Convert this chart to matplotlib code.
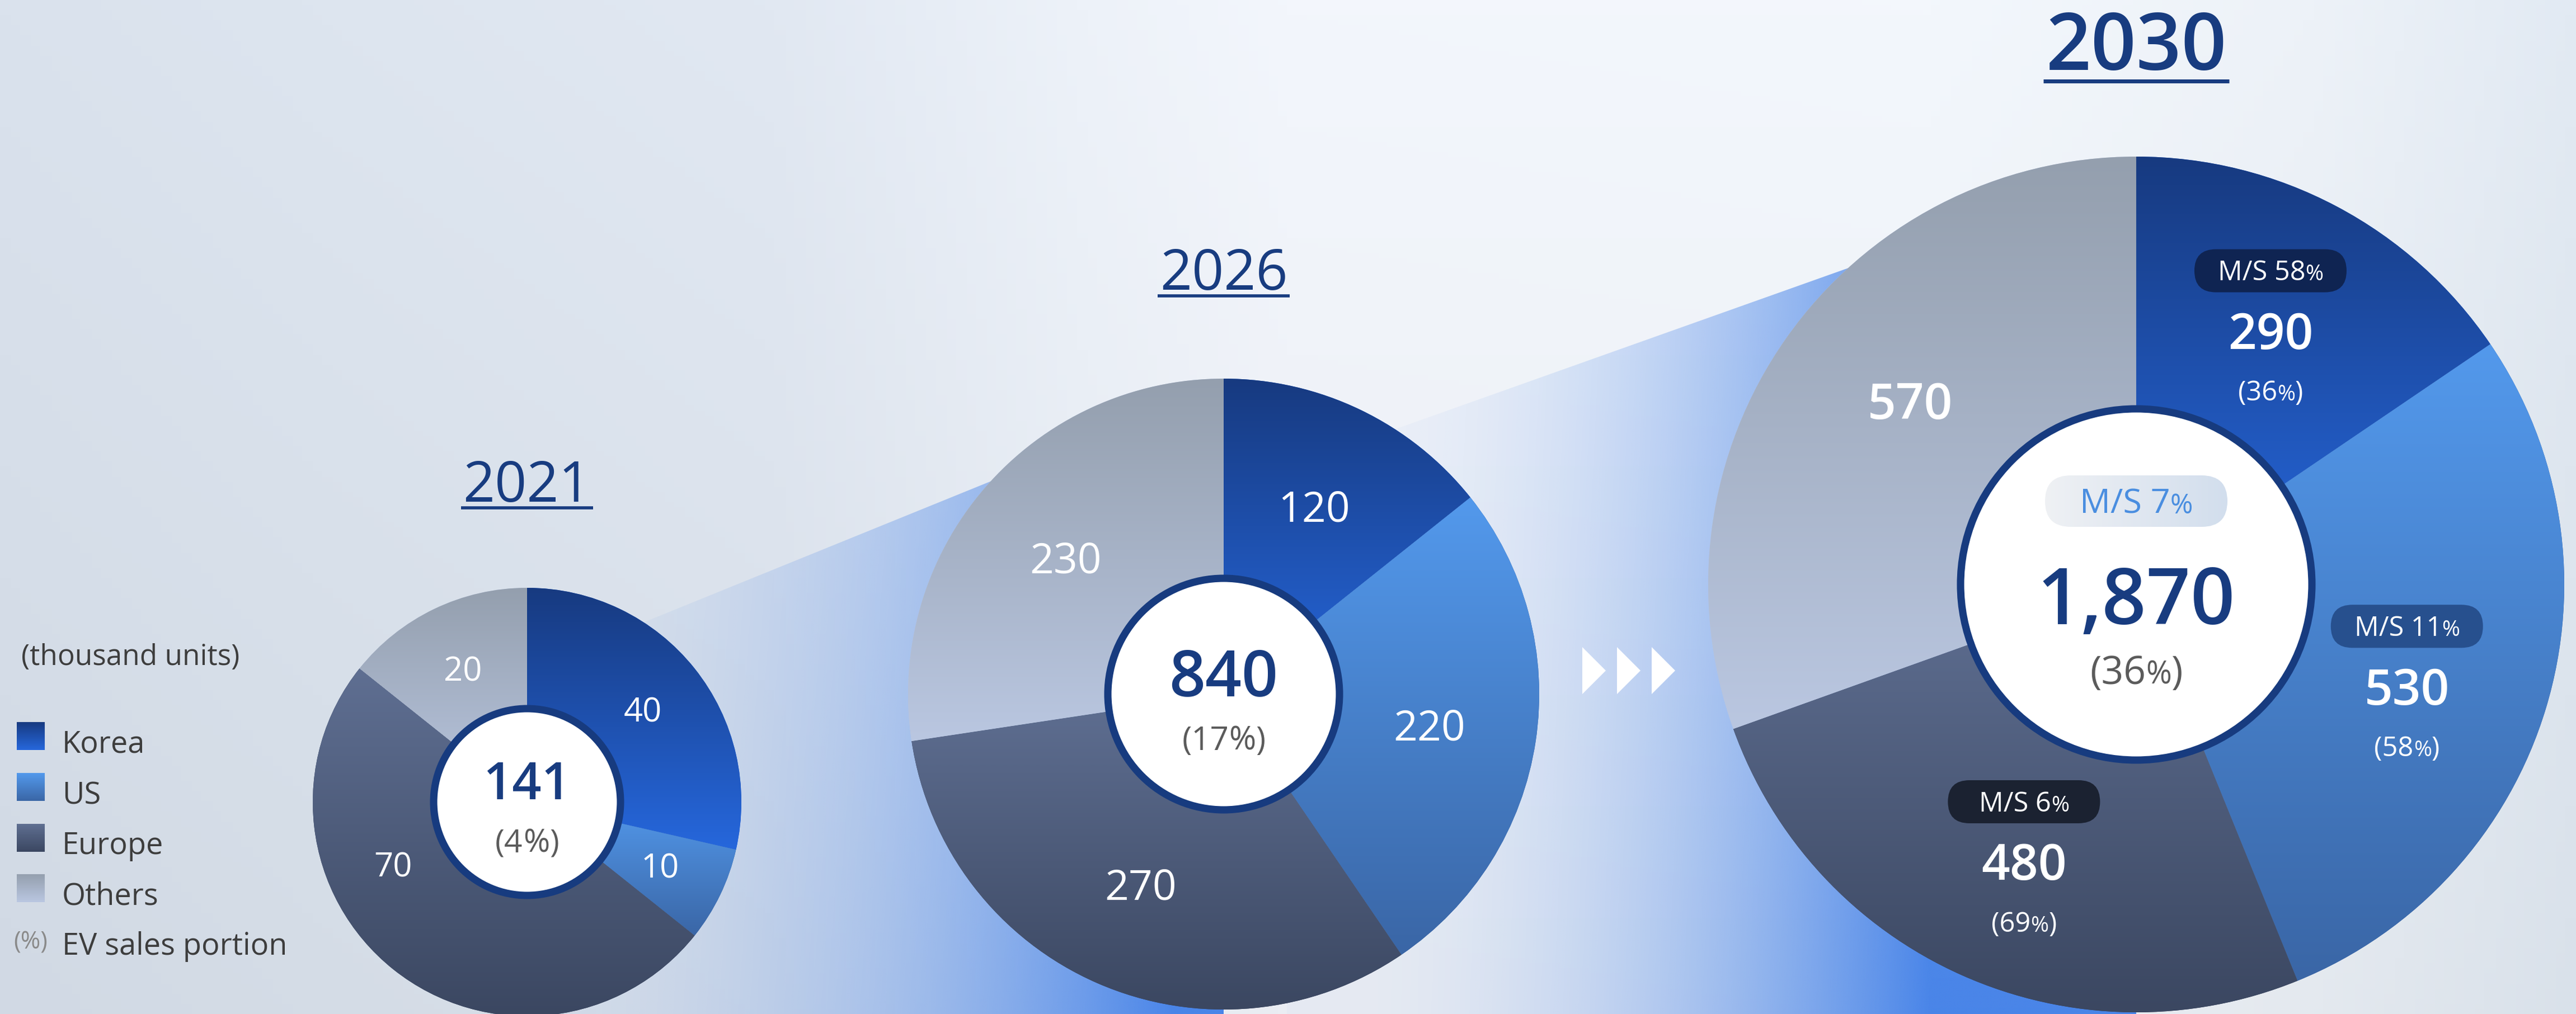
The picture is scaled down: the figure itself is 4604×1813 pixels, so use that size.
import re
import numpy as np
import matplotlib
matplotlib.use("Agg")
import matplotlib.pyplot as plt
from matplotlib.patches import Circle, Polygon, FancyBboxPatch, Rectangle
from matplotlib.colors import to_rgb, LinearSegmentedColormap
from matplotlib.font_manager import FontProperties

# ---- data (thousand units) ----
regions = ["Korea", "US", "Europe", "Others"]
years = ["2021", "2026", "2030"]
sales_2021 = [40, 10, 70, 20]
sales_2026 = [120, 220, 270, 230]
sales_2030 = [290, 530, 480, 570]
totals = ["141", "840", "1,870"]
ev_portion_total = ["4%", "17%", "36%"]
ev_portion_2030 = ["36%", "58%", "69%", None]
ms_2030 = ["58%", "11%", "6%", None]
ms_total_2030 = "7%"

# ---- layout (image pixels, y down) ----
W, H = 4604, 1813
FONT = "Open Sans"
NAVY = "#183c80"
pie_center = [(942, 1434), (2187, 1241), (3818, 1045)]
pie_radius = [383, 564, 765]
hole_radius = [167, 207, 314]
year_y = [861, 482, 74]
year_size = [72, 72, 102]
total_y = [(1396, 1503), (1204, 1320), (1066, 1198)]
total_size = [(66, 41), (82, 42), (100, 50)]
label_size = [43, 54, 64]
label_rfrac = [0.69, 0.66, 0.67]
label_override = {(0, "Europe"): (205, 0.69), (2, "US"): (-20.7, 0.676),
                  (2, "Others"): (141, 0.68), (2, "Europe"): (-112, 0.70)}
wedge_grad = {"Korea": ("#173a80", "#2667dc"), "US": ("#5399ec", "#3a66a6"),
              "Europe": ("#5f6f92", "#3b4761"), "Others": ("#949fae", "#bac7e1")}
pill_color = {"Korea": "#0f2452", "US": "#27508e", "Europe": "#1b2231"}

fig = plt.figure(figsize=(W / 100, H / 100), dpi=100)
ax = fig.add_axes([0, 0, 1, 1])
renderer = fig.canvas.get_renderer()


def Y(y):
    return H - y


def text_w(s, size, weight):
    fp = FontProperties(family=FONT, size=size, weight=weight)
    return renderer.get_text_width_height_descent(s, fp, ismath=False)[0]


def label(x, y, s, size, color, weight="normal", pct=1.0, z=8):
    # (x, y) = centre of the digits in image coords
    parts = [p for p in re.split("(%)", s) if p]
    sizes = [size * pct if p == "%" else size for p in parts]
    widths = [text_w(p, sz, weight) for p, sz in zip(parts, sizes)]
    xx = x - sum(widths) / 2
    base = Y(y) - 0.357 * size * 100 / 72
    for p, sz, w in zip(parts, sizes, widths):
        ax.text(xx, base, p, fontsize=sz, ha="left", va="baseline", color=color,
                family=FONT, weight=weight, zorder=z)
        xx += w
    return sum(widths)


def vgrad(box, top, bottom, clip, z, horizontal=False):
    x0, y0, x1, y1 = box
    c = np.linspace(0, 1, 256)
    t, b = np.array(to_rgb(top)), np.array(to_rgb(bottom))
    img = t[None, :] * (1 - c[:, None]) + b[None, :] * c[:, None]
    img = img[None, :, :] if horizontal else img[:, None, :]
    im = ax.imshow(img, extent=(x0, x1, y0, y1), origin="upper", aspect="auto",
                   zorder=z, interpolation="bilinear")
    im.set_clip_path(clip)
    return im


# ---- background ----
bg = LinearSegmentedColormap.from_list("bg", [
    (0.0, "#d5dde8"), (0.12, "#d8e0ea"), (0.3, "#dce3ed"), (0.42, "#e8edf4"),
    (0.5, "#eef1f7"), (0.75, "#eef2f7"), (0.9, "#e8edf3"), (1.0, "#dde5ee")])
row = bg(np.linspace(0, 1, 1151))[:, :3]
vert = np.linspace(0, 1, 200)[:, None, None]
bg_img = np.clip(row[None, :, :] + 0.02 - 0.035 * vert, 0, 1)
ax.imshow(bg_img, extent=(0, W, 0, H), origin="upper", aspect="auto", zorder=0)


# ---- blue funnels between pies ----
def funnel(p, q, xl, xr, xa, xb):
    (x1, y1), (x2, y2) = (p[0], Y(p[1])), (q[0], Y(q[1]))
    slope = (y2 - y1) / (x2 - x1)
    yl, yr = y1 + slope * (xl - x1), y1 + slope * (xr - x1)
    poly = Polygon([(xl, yl), (xr, yr), (xr, 0), (xl, 0)], closed=True,
                   fc="none", ec="none", zorder=1)
    ax.add_patch(poly)
    ymax = max(yl, yr)
    X, YY = np.meshgrid(np.linspace(xl, xr, 400), np.linspace(0, ymax, 300))
    line = y1 + slope * (X - x1)
    v = np.clip((line - YY) / np.maximum(line, 1), 0, 1)
    t = np.clip((X - xa) / (xb - xa), 0, 1)
    alpha = np.clip(0.03 + 0.8 * t ** 1.8 + 0.1 * t * v, 0, 1)
    img = np.zeros(X.shape + (4,))
    img[..., :3] = to_rgb("#3d7de8")
    img[..., 3] = alpha
    im = ax.imshow(img, extent=(xl, xr, 0, ymax), origin="lower", aspect="auto",
                   zorder=1, interpolation="bilinear")
    im.set_clip_path(poly)


funnel((1189, 1097), (1772, 860), 1000, 2187, 1000, 2100)
funnel((2489, 769), (3304, 479), 2300, 3818, 2450, 3450)

# arrows
for ax_x in [2828, 2890, 2952]:
    ax.add_patch(Polygon([(ax_x, Y(1157)), (ax_x + 42, Y(1199)), (ax_x, Y(1241))],
                         closed=True, fc="white", ec="none", zorder=2))

# ---- pies ----
all_sales = [sales_2021, sales_2026, sales_2030]
for i, vals in enumerate(all_sales):
    cx, cy = pie_center[i]
    r = pie_radius[i]
    wedges, _ = ax.pie(vals, radius=r, center=(cx, Y(cy)), startangle=90,
                       counterclock=False, frame=True,
                       colors=[wedge_grad[k][1] for k in regions],
                       wedgeprops=dict(linewidth=0, zorder=3))
    for w, reg in zip(wedges, regions):
        w.set_zorder(3)
        ext = w.get_path().get_extents()
        vgrad((ext.x0, ext.y0, ext.x1, ext.y1), *wedge_grad[reg], clip=w, z=3.5)

    # centre circle
    ax.add_patch(Circle((cx, Y(cy)), hole_radius[i], fc="white", ec="#173b7f",
                        lw=9.4, zorder=5))

    # wedge labels
    for w, reg, v in zip(wedges, regions, vals):
        ang = (w.theta1 + w.theta2) / 2
        rf = label_rfrac[i]
        if (i, reg) in label_override:
            ang, rf = label_override[(i, reg)]
        lx = cx + rf * r * np.cos(np.radians(ang))
        ly = cy - rf * r * np.sin(np.radians(ang))
        if i < 2:
            label(lx, ly, str(v), label_size[i], "white")
        else:
            label(lx, ly, str(v), label_size[i], "white", weight="semibold")
            k = regions.index(reg)
            if ev_portion_2030[k]:
                label(lx, ly + 107, f"({ev_portion_2030[k]})", 35, "white", pct=0.8)
            if ms_2030[k]:
                ax.add_patch(FancyBboxPatch((lx - 136, Y(ly - 108) - 38.5), 272, 77,
                                            boxstyle="round,pad=0,rounding_size=38.5",
                                            fc=pill_color[reg], ec="none", zorder=7))
                label(lx, ly - 108, f"M/S {ms_2030[k]}", 35, "white", pct=0.8)

    # totals
    big, small = total_size[i]
    ty1, ty2 = total_y[i]
    label(cx, ty1, totals[i], big, NAVY, weight="semibold")
    label(cx, ty2, f"({ev_portion_total[i]})", small, "#5b5b5b",
          pct=0.8 if i == 2 else 1.0)

    # year title with underline
    wt = "semibold" if i == 2 else "normal"
    tw = label(cx, year_y[i], years[i], year_size[i], NAVY, weight=wt)
    uy = Y(year_y[i] + year_size[i] * 100 / 72 * 0.357 + (20 if i == 2 else 11))
    ax.plot([cx - tw / 2 - 4, cx + tw / 2 + 4], [uy, uy], color=NAVY,
            lw=5 if i == 2 else 4, solid_capstyle="butt", zorder=8)

# M/S 7% pill in the 2030 centre
cx30 = pie_center[2][0]
pill = FancyBboxPatch((cx30 - 163, Y(896) - 46), 326, 92,
                      boxstyle="round,pad=0,rounding_size=46", fc="none", ec="none", zorder=6)
ax.add_patch(pill)
vgrad((cx30 - 163, Y(896) - 46, cx30 + 163, Y(896) + 46), "#eff1f4", "#d2deed",
      clip=pill, z=6, horizontal=True)
label(cx30, 896, f"M/S {ms_total_2030}", 44, "#4a8ee0", pct=0.8)

# ---- legend ----
ax.text(38, Y(1189), "(thousand units)", fontsize=37, family=FONT, color="#3d3d3d",
        ha="left", va="baseline", zorder=8)
sq_top = [1291, 1382, 1473, 1563]
base_y = [1346, 1437, 1527, 1617]
for reg, st, by in zip(regions, sq_top, base_y):
    rect = Rectangle((30, Y(st + 50)), 50, 50, fc="none", ec="none", zorder=6)
    ax.add_patch(rect)
    vgrad((30, Y(st + 50), 80, Y(st)), *wedge_grad[reg], clip=rect, z=6)
    ax.text(111, Y(by), reg, fontsize=39, family=FONT, color="#3d3d3d",
            ha="left", va="baseline", zorder=8)
ax.text(55, Y(1685), "(%)", fontsize=31, family=FONT, color="#8a8a8a",
        ha="center", va="center", zorder=8)
ax.text(111, Y(1707), "EV sales portion", fontsize=39, family=FONT, color="#3d3d3d",
        ha="left", va="baseline", zorder=8)

ax.set_xlim(0, W)
ax.set_ylim(0, H)
ax.set_aspect("auto")
ax.axis("off")
fig.savefig("out.png", dpi=100)
